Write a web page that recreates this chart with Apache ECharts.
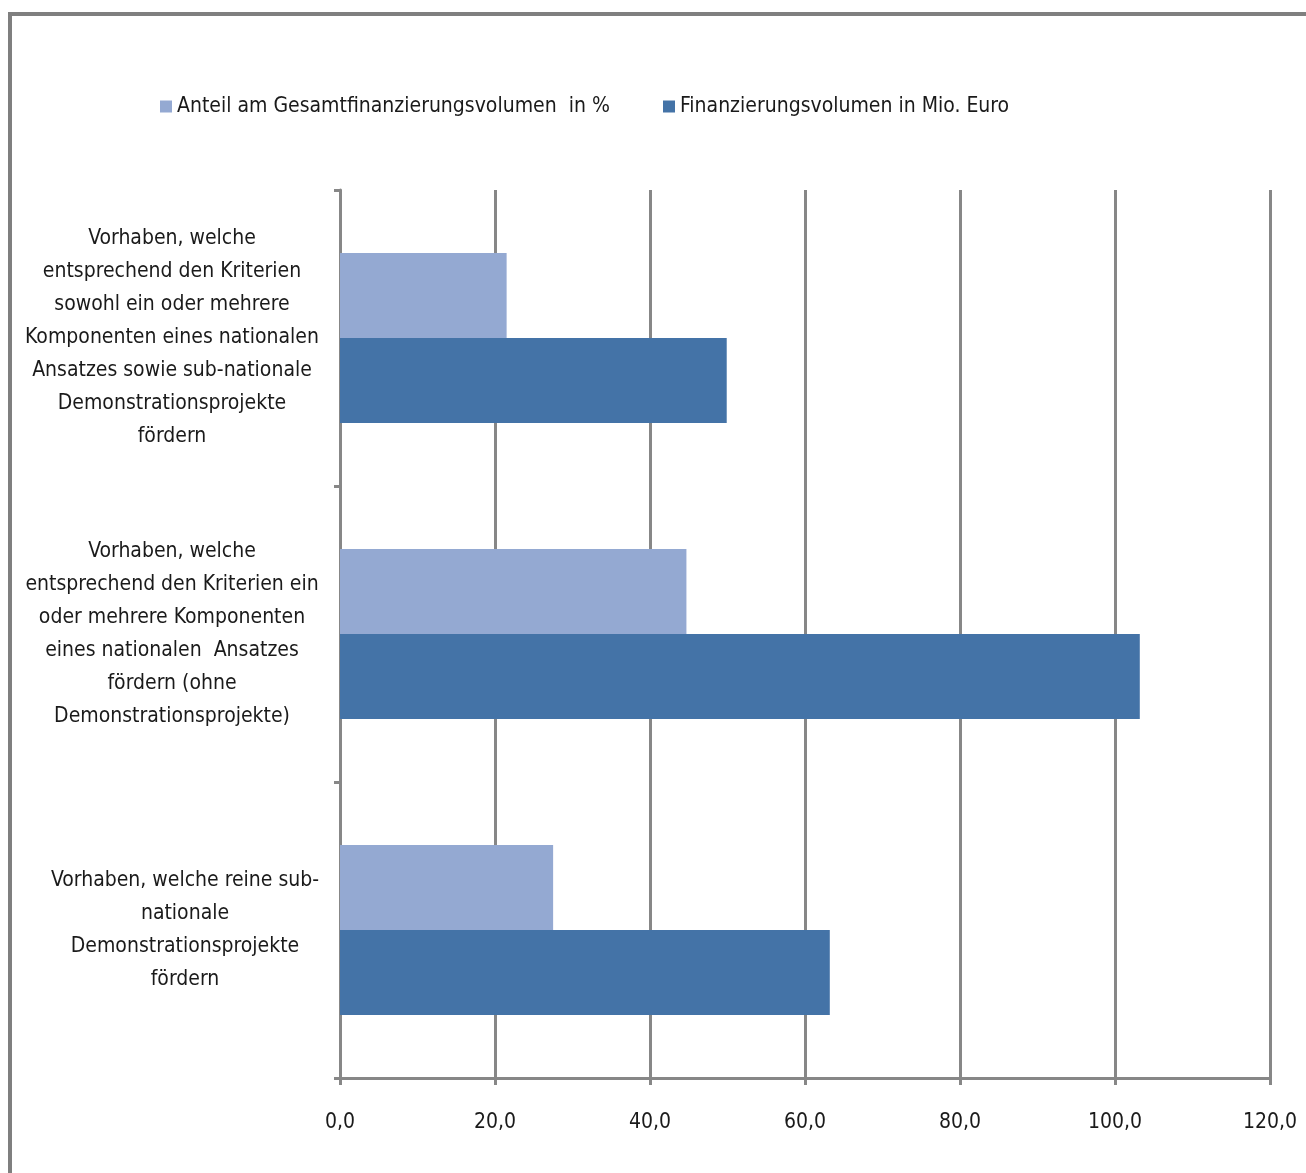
<!DOCTYPE html>
<html>
<head>
<meta charset="utf-8">
<script src="https://cdn.jsdelivr.net/npm/echarts@6/dist/echarts.min.js"></script>
<style>
html,body{margin:0;padding:0;background:#fff;}
#chart{width:1306px;height:1173px;}
</style>
</head>
<body>
<div id="chart"></div>
<script>
const categories = [
  'Vorhaben, welche\nentsprechend den Kriterien\nsowohl ein oder mehrere\nKomponenten eines nationalen\nAnsatzes sowie sub-nationale\nDemonstrationsprojekte\nfördern',
  'Vorhaben, welche\nentsprechend den Kriterien ein\noder mehrere Komponenten\neines nationalen  Ansatzes\nfördern (ohne\nDemonstrationsprojekte)',
  'Vorhaben, welche reine sub-\nnationale\nDemonstrationsprojekte\nfördern'
];
const seriesNames = ['Anteil am Gesamtfinanzierungsvolumen  in %', 'Finanzierungsvolumen in Mio. Euro'];
const anteil = [21.5, 44.7, 27.5];
const volumen = [49.9, 103.2, 63.2];
const xTicks = [0, 20, 40, 60, 80, 100, 120];

const FONT = "'Liberation Sans Narrow', 'DejaVu Sans Condensed', Lato, sans-serif";
const gridColor = '#878787';
const FS = 21;

const chart = echarts.init(document.getElementById('chart'));
chart.setOption({
  backgroundColor: '#ffffff',
  animation: false,
  textStyle: { fontFamily: FONT, color: '#1a1a1a' },
  graphic: [
    { type: 'line', shape: { x1: 10, y1: 14, x2: 1306, y2: 14 }, style: { stroke: '#7f7f7f', lineWidth: 4 } },
    { type: 'line', shape: { x1: 10, y1: 12, x2: 10, y2: 1173 }, style: { stroke: '#7f7f7f', lineWidth: 4 } }
  ],
  legend: [
    { data: [seriesNames[0]], left: 160, top: 96, padding: 0, itemWidth: 12, itemHeight: 12, itemGap: 6,
      icon: 'rect', textStyle: { fontFamily: FONT, fontSize: FS, color: '#1a1a1a' } },
    { data: [seriesNames[1]], left: 663, top: 96, padding: 0, itemWidth: 12, itemHeight: 12, itemGap: 6,
      icon: 'rect', textStyle: { fontFamily: FONT, fontSize: FS, color: '#1a1a1a' } }
  ],
  grid: { left: 340, right: 36, top: 190, bottom: 95, containLabel: false, outerBoundsMode: 'none' },
  xAxis: {
    type: 'value', min: 0, max: 120, interval: 20,
    axisLine: { show: true, lineStyle: { color: gridColor, width: 3 } },
    axisTick: { show: true, length: 7, lineStyle: { color: gridColor, width: 3 } },
    splitLine: { show: true, lineStyle: { color: gridColor, width: 3 } },
    axisLabel: {
      margin: 34, fontSize: FS, color: '#1a1a1a', fontFamily: FONT,
      formatter: v => xTicks.includes(v) ? v.toFixed(1).replace('.', ',') : ''
    }
  },
  yAxis: {
    type: 'category', inverse: true,
    data: categories.map((c, i) => i === 2
      ? { value: c, textStyle: { align: 'center', padding: [6, 0, 0, 26], fontSize: FS, lineHeight: 33, color: '#1a1a1a', fontFamily: FONT } }
      : c),
    axisLine: { show: true, lineStyle: { color: gridColor, width: 3 } },
    axisTick: { show: true, length: 6, lineStyle: { color: gridColor, width: 3 } },
    axisLabel: {
      align: 'center', margin: 168, fontSize: FS, lineHeight: 33, color: '#1a1a1a', fontFamily: FONT,
      padding: [6, 0, 0, 0]
    }
  },
  series: [
    { name: seriesNames[0], type: 'bar', data: anteil, barWidth: 85, barGap: '0%',
      itemStyle: { color: '#94A9D2' } },
    { name: seriesNames[1], type: 'bar', data: volumen, barWidth: 85, barGap: '0%',
      itemStyle: { color: '#4473A7' } }
  ]
});
</script>
</body>
</html>
